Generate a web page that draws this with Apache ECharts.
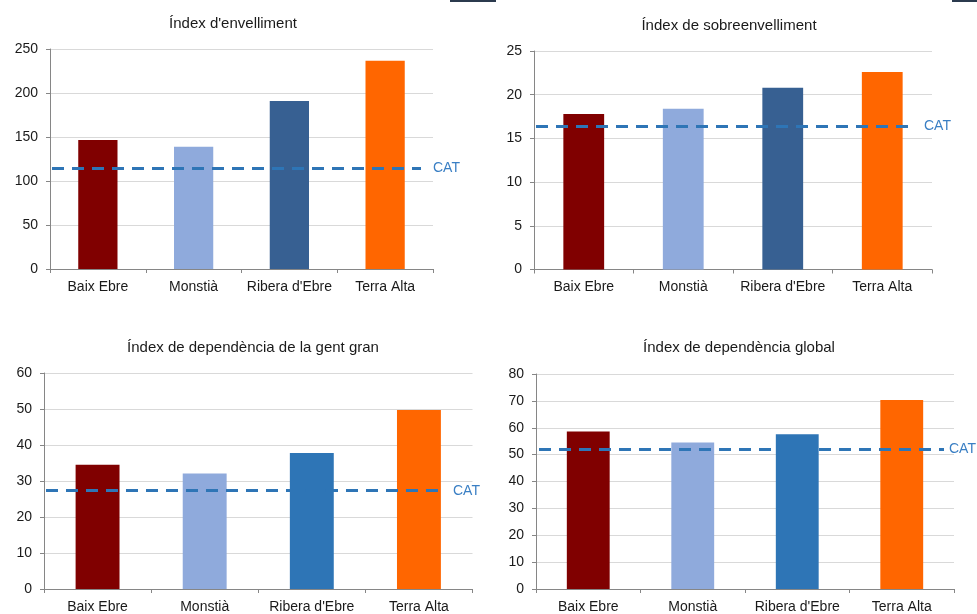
<!DOCTYPE html>
<html>
<head>
<meta charset="utf-8">
<script src="https://cdn.jsdelivr.net/npm/echarts@6/dist/echarts.min.js"></script>
<style>
html,body{margin:0;padding:0;background:#fff;}
#chart{width:977px;height:614px;}
</style>
</head>
<body>
<div id="chart"></div>
<script>
// ---- Data ----
var categories = ['Baix Ebre', 'Monstià', "Ribera d'Ebre", 'Terra Alta'];
var titles = ["Índex d'envelliment", 'Índex de sobreenvelliment', 'Índex de dependència de la gent gran', 'Índex de dependència global'];
var envelliment = [146.6, 139, 191, 236.7];
var sobreenvelliment = [17.8, 18.4, 20.8, 22.6];
var dependenciaGentGran = [34.5, 32.1, 37.8, 49.7];
var dependenciaGlobal = [58.6, 54.5, 57.6, 70.3];
var catValues = [115, 16.4, 27.3, 52.1];
var catLabel = 'CAT';
var yMax = [250, 25, 60, 80];
var yInterval = [50, 5, 10, 10];

// ---- Layout / style ----
var panels = [
  {left: 50, top: 49, width: 383, height: 220, titleX: 228, titleY: 11, lineFrom: 52, lineTo: 421, labelDist: 12, c3: '#376092'},
  {left: 534, top: 51, width: 398, height: 218.5, titleX: 724, titleY: 13, lineFrom: 536, lineTo: 912, labelDist: 12, c3: '#376092'},
  {left: 44, top: 373, width: 428.5, height: 218.5, titleX: 248, titleY: 335, lineFrom: 46, lineTo: 443, labelDist: 10, c3: '#2E75B6'},
  {left: 536, top: 374, width: 418, height: 218, titleX: 734, titleY: 335, lineFrom: 539, lineTo: 944, labelDist: 5, c3: '#2E75B6'}
];
var seriesData = [envelliment, sobreenvelliment, dependenciaGentGran, dependenciaGlobal];
var FONT = '"Liberation Sans", Arial, sans-serif';

var option = {
  animation: false,
  backgroundColor: '#ffffff',
  title: [], grid: [], xAxis: [], yAxis: [], series: [],
  graphic: [
    {type: 'rect', shape: {x: 450, y: 0, width: 46, height: 2}, style: {fill: '#2b3a4e'}},
    {type: 'rect', shape: {x: 952, y: 0, width: 25, height: 2}, style: {fill: '#2b3a4e'}}
  ]
};

panels.forEach(function (p, i) {
  var colors = ['#800000', '#8FAADC', p.c3, '#FF6600'];
  option.title.push({
    text: titles[i], left: p.titleX, top: p.titleY, textAlign: 'center',
    textStyle: {fontFamily: FONT, fontSize: 15, fontWeight: 'normal', color: '#1a1a1a'}
  });
  option.grid.push({left: p.left, top: p.top, width: p.width, height: p.height, containLabel: false});
  option.xAxis.push({
    type: 'category', gridIndex: i, data: categories,
    axisLine: {show: true, lineStyle: {color: '#868686', width: 1}},
    axisTick: {show: true, length: 4, alignWithLabel: false, lineStyle: {color: '#868686'}},
    axisLabel: {fontFamily: FONT, fontSize: 14, color: '#1a1a1a', margin: 11, interval: 0},
    splitLine: {show: false}
  });
  option.yAxis.push({
    type: 'value', gridIndex: i, min: 0, max: yMax[i], interval: yInterval[i],
    axisLine: {show: true, lineStyle: {color: '#868686', width: 1}},
    axisTick: {show: true, length: 4, lineStyle: {color: '#868686'}},
    axisLabel: {fontFamily: FONT, fontSize: 14, color: '#1a1a1a', margin: 12},
    splitLine: {show: true, lineStyle: {color: '#d9d9d9', width: 1}}
  });
  option.series.push({
    type: 'bar', xAxisIndex: i, yAxisIndex: i, barWidth: '41%',
    data: seriesData[i].map(function (v, k) { return {value: v, itemStyle: {color: colors[k]}}; }),
    markLine: {
      silent: true, symbol: ['none', 'none'],
      lineStyle: {type: [12, 8], width: 3, color: '#2E75B6'},
      label: {show: true, position: 'end', formatter: catLabel, distance: p.labelDist,
        fontFamily: FONT, fontSize: 14, color: '#3a7fc4'},
      data: [[{x: p.lineFrom, yAxis: catValues[i]}, {x: p.lineTo, yAxis: catValues[i]}]]
    }
  });
});

var chart = echarts.init(document.getElementById('chart'), null, {renderer: 'canvas'});
chart.setOption(option);
</script>
</body>
</html>
